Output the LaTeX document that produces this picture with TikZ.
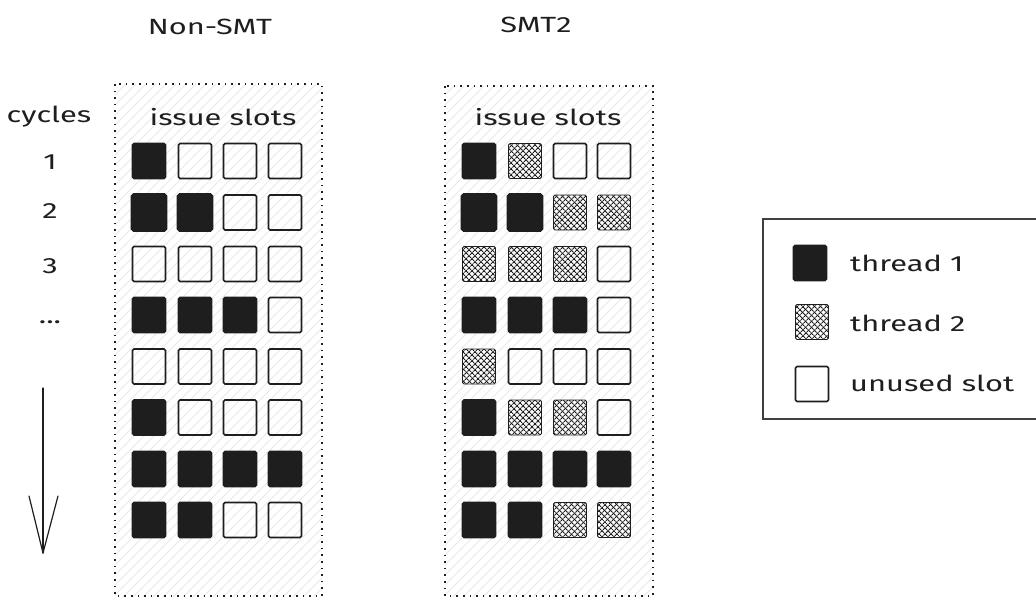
\documentclass[tikz,border=0pt]{standalone}
\usepackage{fontspec}
\setmainfont{Fira Sans}[FakeStretch=1.4]
\usetikzlibrary{patterns.meta}
\definecolor{ink}{HTML}{1E1E1E}
\begin{document}
\begin{tikzpicture}[x=1pt,y=-1pt,
  lbl/.style={font=\fontsize{22}{26}\selectfont, text=ink, inner sep=0pt},
  slot/.style={draw=ink, line width=1.6pt, minimum width=33pt, minimum height=35pt, inner sep=0pt, rounded corners=1.5pt},
  un/.style={slot},
  ta/.style={slot, fill=ink},
  tab/.style={slot, fill=ink, line width=3.8pt},
  tb/.style={slot, line width=0.8pt,
     pattern={Lines[angle=45,distance=4pt,line width=1.1pt]}, pattern color=ink,
     postaction={pattern={Lines[angle=-45,distance=4pt,line width=1.1pt]}, pattern color=ink}},
  region/.style={draw=ink, line width=1.6pt, dash pattern=on 1.6pt off 5pt},
  hach/.style={draw=black!9, line width=1pt}
]
\useasboundingbox (0,0) rectangle (1036,597);

% regions with light hachure
\begin{scope}
  \clip (115,84) rectangle (322,596);
  \foreach \k in {-450,-440,...,330} \draw[hach] (\k,610) -- ++(560,-560);
\end{scope}
\begin{scope}
  \clip (445,86) rectangle (653,596);
  \foreach \k in {-120,-110,...,660} \draw[hach] (\k,610) -- ++(560,-560);
\end{scope}
\path[region] (115,84) rectangle (322,596);
\path[region] (445,86) rectangle (653,596);

% titles
\node[lbl] (tnon) at (210,27) {Non-SMT};
\node[lbl] (tsmt) at (536,25) {SMT2};
\node[lbl] (isa) at (223,117) {issue slots};
\node[lbl] (isb) at (548,117) {issue slots};

% cycles column
\node[lbl] (cyc) at (49,117) {cycles};
\node[lbl] (c1) at (50,162) {1};
\node[lbl] (c2) at (50,211) {2};
\node[lbl] (c3) at (50,266) {3};
\node[lbl] (cd) at (50,322) {...};
\coordinate (atop) at (43,388);
\coordinate (abot) at (43,553);
\draw[ink, line width=1.2pt, line cap=round, line join=round] (atop) -- (abot);
\draw[ink, line width=1.2pt, line cap=round, line join=round] ([shift={(-14,-57)}]abot) -- (abot) -- ([shift={(15,-57)}]abot);

% Non-SMT grid
\foreach \r/\y/\a/\b/\c/\d in {
  1/161/ta/un/un/un, 2/212.5/tab/tab/un/un, 3/264/un/un/un/un, 4/315/ta/ta/ta/un,
  5/366.5/un/un/un/un, 6/417.5/ta/un/un/un, 7/469/ta/ta/ta/ta, 8/520/ta/ta/un/un} {
  \node[\a] (n-\r-1) at (149,\y) {};
  \node[\b] (n-\r-2) at (195,\y) {};
  \node[\c] (n-\r-3) at (240,\y) {};
  \node[\d] (n-\r-4) at (285,\y) {};
}

% SMT2 grid
\foreach \r/\y/\a/\b/\c/\d in {
  1/161/ta/tb/un/un, 2/212.5/tab/tab/tb/tb, 3/264/tb/tb/tb/un, 4/315/ta/ta/ta/un,
  5/366.5/tb/un/un/un, 6/417.5/ta/tb/tb/un, 7/469/ta/ta/ta/ta, 8/520/ta/ta/tb/tb} {
  \node[\a] (s-\r-1) at (479,\y) {};
  \node[\b] (s-\r-2) at (525,\y) {};
  \node[\c] (s-\r-3) at (570,\y) {};
  \node[\d] (s-\r-4) at (614,\y) {};
}

% legend
\draw[ink!85, line width=1.2pt] (1040,219) -- (763,219) -- (763,419) -- (1040,419);
\node[ta] (l1) at (810,263) {};
\node[tb] (l2) at (812,322) {};
\node[un] (l3) at (812,384) {};
\node[lbl, anchor=west] (lt1) at (850,263) {thread 1};
\node[lbl, anchor=west] (lt2) at (850,323) {thread 2};
\node[lbl, anchor=west] (lt3) at (850,383) {unused slot};
\end{tikzpicture}
\end{document}
